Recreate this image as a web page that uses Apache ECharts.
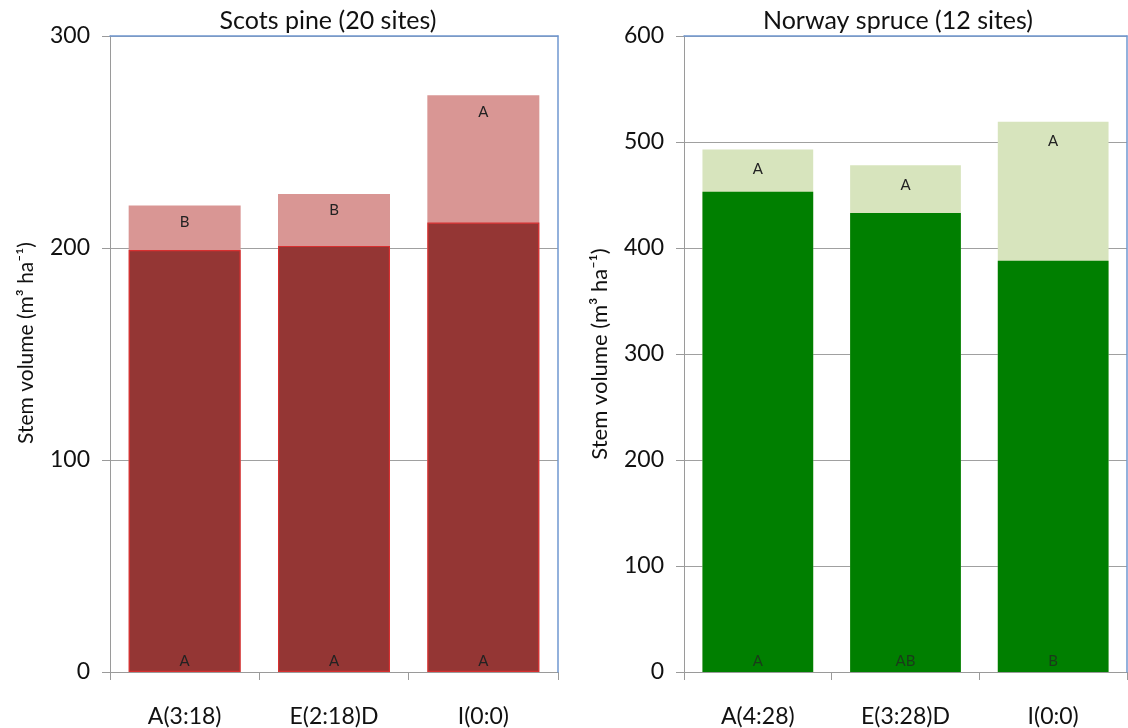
<!DOCTYPE html>
<html>
<head>
<meta charset="utf-8">
<script src="https://cdn.jsdelivr.net/npm/echarts@6/dist/echarts.min.js"></script>
<style>html,body{margin:0;padding:0;background:#fff}#c{width:1128px;height:728px}</style>
</head>
<body>
<div id="c"></div>
<script>
// ---- data ----
const pineCategories = ['A(3:18)', 'E(2:18)D', 'I(0:0)'];
const pineStem = [199, 201, 212];
const pineTotal = [220, 225.5, 272];
const pineStemLetters = ['A', 'A', 'A'];
const pineTotalLetters = ['B', 'B', 'A'];
const pineTicks = [0, 100, 200, 300];

const spruceCategories = ['A(4:28)', 'E(3:28)D', 'I(0:0)'];
const spruceStem = [453, 433, 388];
const spruceTotal = [493, 478, 519];
const spruceStemLetters = ['A', 'AB', 'B'];
const spruceTotalLetters = ['A', 'A', 'A'];
const spruceTicks = [0, 100, 200, 300, 400, 500, 600];

const FONT = 'Lato, "Open Sans", sans-serif';
const BLUE = '#6f97d0';
const chart = echarts.init(document.getElementById('c'));

function xAxis(idx, cats) {
  return {
    type: 'category', gridIndex: idx, data: cats,
    axisLine: { lineStyle: { color: '#9a9a9a', width: 1 } },
    axisTick: { show: true, length: 8, lineStyle: { color: '#9a9a9a' } },
    axisLabel: { color: '#111', fontSize: 23, fontFamily: FONT, margin: 33 }
  };
}
function xAxisTop(idx, cats) {
  return {
    type: 'category', gridIndex: idx, data: cats, position: 'top', z: 5,
    axisLine: { show: true, onZero: false, lineStyle: { color: BLUE, width: 1.5 } },
    axisTick: { show: false }, axisLabel: { show: false }, splitLine: { show: false }
  };
}
function yAxis(idx, ticks, nameSize, namePad) {
  return {
    type: 'value', gridIndex: idx, min: ticks[0], max: ticks[ticks.length - 1],
    interval: ticks[1] - ticks[0],
    name: 'Stem volume (m³ ha⁻¹)', nameLocation: 'middle', nameGap: 73,
    nameTextStyle: { color: '#111', fontSize: nameSize, fontFamily: FONT, padding: [0, 0, 0, namePad] },
    axisLine: { show: true, lineStyle: { color: '#9a9a9a' } },
    axisTick: { show: true, length: 8, lineStyle: { color: '#9a9a9a' } },
    axisLabel: { color: '#111', fontSize: 23, fontFamily: FONT, margin: 20 },
    splitLine: { show: true, lineStyle: { color: '#a0a0a0', width: 1.2 } }
  };
}
function yAxisRight(idx, ticks) {
  return {
    type: 'value', gridIndex: idx, min: ticks[0], max: ticks[ticks.length - 1],
    interval: ticks[1] - ticks[0], position: 'right', z: 5,
    axisLine: { show: true, onZero: false, lineStyle: { color: BLUE, width: 1.5 } },
    axisTick: { show: false }, axisLabel: { show: false }, splitLine: { show: false }
  };
}
function letterSeries(vals, letters) {
  return vals.map((v, i) => ({ value: v, label: { formatter: letters[i] } }));
}

chart.setOption({
  animation: false,
  backgroundColor: '#fff',
  title: [
    { text: 'Scots pine (20 sites)', left: 323, top: 3, textAlign: 'center',
      textStyle: { fontSize: 25, fontWeight: 'normal', color: '#111', fontFamily: FONT } },
    { text: 'Norway spruce (12 sites)', left: 893, top: 3, textAlign: 'center',
      textStyle: { fontSize: 25, fontWeight: 'normal', color: '#111', fontFamily: FONT } }
  ],
  grid: [
    { left: 110, right: 570, top: 36, bottom: 55 },
    { left: 684, right: 1, top: 36, bottom: 55 }
  ],
  xAxis: [xAxis(0, pineCategories), xAxis(1, spruceCategories), xAxisTop(0, pineCategories), xAxisTop(1, spruceCategories)],
  yAxis: [yAxis(0, pineTicks, 21, 22), yAxis(1, spruceTicks, 22, 0), yAxisRight(0, pineTicks), yAxisRight(1, spruceTicks)],
  series: [
    { type: 'bar', xAxisIndex: 0, yAxisIndex: 0, barWidth: '75%', barGap: '-100%',
      data: letterSeries(pineTotal, pineTotalLetters),
      itemStyle: { color: '#d99694' },
      label: { show: true, position: 'insideTop', distance: 9, color: '#222', fontSize: 15, fontFamily: FONT } },
    { type: 'bar', xAxisIndex: 0, yAxisIndex: 0, barWidth: '75%', barGap: '-100%',
      data: letterSeries(pineStem, pineStemLetters),
      itemStyle: { color: '#943634', borderColor: '#d83030', borderWidth: 1.2 },
      label: { show: true, position: 'insideBottom', distance: 3, color: '#222', fontSize: 15, fontFamily: FONT } },
    { type: 'bar', xAxisIndex: 1, yAxisIndex: 1, barWidth: '75%', barGap: '-100%',
      data: letterSeries(spruceTotal, spruceTotalLetters),
      itemStyle: { color: '#d7e4bd' },
      label: { show: true, position: 'insideTop', distance: 12, color: '#222', fontSize: 15, fontFamily: FONT } },
    { type: 'bar', xAxisIndex: 1, yAxisIndex: 1, barWidth: '75%', barGap: '-100%',
      data: letterSeries(spruceStem, spruceStemLetters),
      itemStyle: { color: '#007f00' },
      label: { show: true, position: 'insideBottom', distance: 3, color: '#1a3a1a', fontSize: 15, fontFamily: FONT } }
  ]
});
</script>
</body>
</html>
